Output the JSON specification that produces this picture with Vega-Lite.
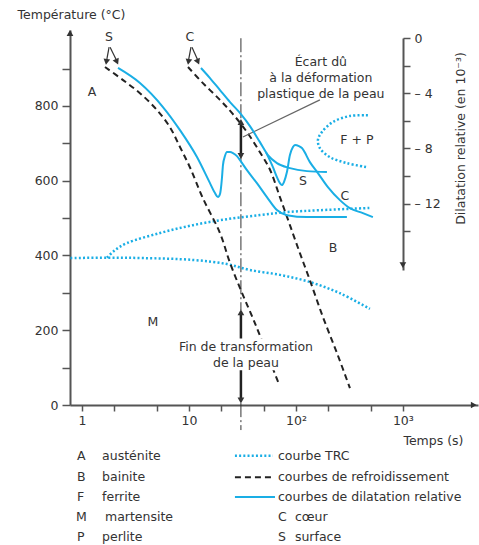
{
  "$schema": "https://vega.github.io/schema/vega-lite/v6.json",
  "width": 408,
  "height": 375,
  "autosize": {"type": "none"},
  "padding": {"left": 70, "top": 30, "right": 1, "bottom": 140},
  "background": "white",
  "config": {
    "font": "DejaVu Sans",
    "view": {"stroke": null},
    "axis": {"grid": false, "labelFont": "DejaVu Sans", "titleFont": "DejaVu Sans", "labelColor": "#333", "titleColor": "#333", "labelFontSize": 12.5, "titleFontSize": 12.5, "titleFontWeight": "normal", "domainColor": "#555", "tickColor": "#555", "domainWidth": 2, "tickWidth": 1.5, "labelFlush": false, "labelOverlap": false}
  },
  "datasets": {
    "cool": [
      {"s":"S","t":1.64,"T":904},{"s":"S","t":2.42,"T":869},{"s":"S","t":3.48,"T":834},{"s":"S","t":5.02,"T":789},{"s":"S","t":6.64,"T":743},{"s":"S","t":8.24,"T":690},{"s":"S","t":10.2,"T":636},{"s":"S","t":13.5,"T":553},{"s":"S","t":19.49,"T":460},{"s":"S","t":24.2,"T":380},{"s":"S","t":31.3,"T":300},{"s":"S","t":39.6,"T":232},{"s":"S","t":51.3,"T":152},{"s":"S","t":68.5,"T":60},
      {"s":"C","t":9.79,"T":904},{"s":"C","t":13.5,"T":861},{"s":"C","t":19.49,"T":816},{"s":"C","t":25.78,"T":778},{"s":"C","t":34.84,"T":730},{"s":"C","t":46.09,"T":676},{"s":"C","t":57.1,"T":630},{"s":"C","t":70.88,"T":556},{"s":"C","t":87.9,"T":481},{"s":"C","t":109,"T":406},{"s":"C","t":135,"T":334},{"s":"C","t":179,"T":235},{"s":"C","t":242,"T":139},{"s":"C","t":320,"T":45}
    ],
    "trc": [
      {"s":"low","o":1,"t":0.78,"T":393},{"s":"low","o":2,"t":1.71,"T":394},{"s":"low","o":3,"t":3.72,"T":393},{"s":"low","o":4,"t":10.9,"T":388},{"s":"low","o":5,"t":22.65,"T":377},{"s":"low","o":6,"t":37.17,"T":361},{"s":"low","o":7,"t":70.88,"T":348},{"s":"low","o":8,"t":135.1,"T":329},{"s":"low","o":9,"t":257.8,"T":299},{"s":"low","o":10,"t":491.5,"T":257},
      {"s":"up","o":1,"t":1.71,"T":394},{"s":"up","o":2,"t":2.03,"T":414},{"s":"up","o":3,"t":2.63,"T":433},{"s":"up","o":4,"t":5.36,"T":460},{"s":"up","o":5,"t":10.9,"T":481},{"s":"up","o":6,"t":22.65,"T":497},{"s":"up","o":7,"t":46.09,"T":508},{"s":"up","o":8,"t":82.4,"T":516},{"s":"up","o":9,"t":167.6,"T":521},{"s":"up","o":10,"t":491.5,"T":527},
      {"s":"fp","o":1,"t":470.9,"T":775},{"s":"fp","o":2,"t":319.6,"T":773},{"s":"fp","o":3,"t":221.8,"T":757},{"s":"fp","o":4,"t":175,"T":730},{"s":"fp","o":5,"t":160.6,"T":709},{"s":"fp","o":6,"t":167.6,"T":687},{"s":"fp","o":7,"t":207.8,"T":663},{"s":"fp","o":8,"t":299.7,"T":647},{"s":"fp","o":9,"t":460.8,"T":636}
    ],
    "dil": [
      {"s":"b1","t":2.17,"D":-2.17},{"s":"b1","t":3.48,"D":-3.26},{"s":"b1","t":5.71,"D":-5.0},{"s":"b1","t":8.24,"D":-6.67},{"s":"b1","t":11.88,"D":-8.62},{"s":"b1","t":15.72,"D":-10.51},{"s":"b1","t":17.5,"D":-11.23},{"s":"b1","t":18.67,"D":-11.52},{"s":"b1","t":19.5,"D":-11.3},{"s":"b1","t":19.91,"D":-10.87},{"s":"b1","t":20.34,"D":-10.14},{"s":"b1","t":20.79,"D":-9.2},{"s":"b1","t":21.7,"D":-8.55},{"s":"b1","t":22.65,"D":-8.26},{"s":"b1","t":24.2,"D":-8.26},{"s":"b1","t":25.78,"D":-8.33},{"s":"b1","t":28.1,"D":-8.55},{"s":"b1","t":29.98,"D":-8.84},{"s":"b1","t":34.84,"D":-9.57},{"s":"b1","t":43.19,"D":-10.51},{"s":"b1","t":53.58,"D":-11.52},{"s":"b1","t":66.44,"D":-12.46},{"s":"b1","t":82.4,"D":-12.83},{"s":"b1","t":126.7,"D":-12.97},{"s":"b1","t":299.7,"D":-12.97},
      {"s":"b2","t":12.95,"D":-2.17},{"s":"b2","t":15.72,"D":-2.9},{"s":"b2","t":19.49,"D":-3.77},{"s":"b2","t":24.2,"D":-4.64},{"s":"b2","t":30.6,"D":-5.51},{"s":"b2","t":37.17,"D":-6.38},{"s":"b2","t":46.09,"D":-7.54},{"s":"b2","t":54.74,"D":-8.48},{"s":"b2","t":66.44,"D":-9.06},{"s":"b2","t":87.9,"D":-9.42},{"s":"b2","t":126.7,"D":-9.64},{"s":"b2","t":194.9,"D":-9.71},
      {"s":"b3","t":52.4,"D":-8.26},{"s":"b3","t":60.96,"D":-9.35},{"s":"b3","t":66.44,"D":-10.07},{"s":"b3","t":70.88,"D":-10.51},{"s":"b3","t":74.0,"D":-10.65},{"s":"b3","t":77.3,"D":-10.43},{"s":"b3","t":82.4,"D":-9.71},{"s":"b3","t":87.9,"D":-8.48},{"s":"b3","t":93.8,"D":-7.9},{"s":"b3","t":97.9,"D":-7.75},{"s":"b3","t":106.7,"D":-7.83},{"s":"b3","t":113.8,"D":-7.97},{"s":"b3","t":135.1,"D":-8.99},{"s":"b3","t":160.6,"D":-9.78},{"s":"b3","t":199.1,"D":-10.8},{"s":"b3","t":257.8,"D":-11.74},{"s":"b3","t":319.6,"D":-12.32},{"s":"b3","t":422.9,"D":-12.68},{"s":"b3","t":524.4,"D":-12.97}
    ],
    "rules": [
      {"k":"dashdot","t":30.6,"T":981,"t2":30.6,"T2":254},
      {"k":"dashdot","t":30.6,"T":5,"t2":30.6,"T2":-67},
      {"k":"thick","t":30.6,"T":754,"t2":30.6,"T2":668},
      {"k":"thick","t":30.6,"T":243,"t2":30.6,"T2":170},
      {"k":"thick","t":30.6,"T":95,"t2":30.6,"T2":13},
      {"k":"leader","t":31.97,"T":717,"t2":167.6,"T2":816},
      {"k":"thin","t":1.79,"T":957,"t2":1.7,"T2":922},
      {"k":"thin","t":1.83,"T":957,"t2":2.1,"T2":922},
      {"k":"thin","t":10.44,"T":957,"t2":9.9,"T2":922},
      {"k":"thin","t":10.67,"T":957,"t2":12.1,"T2":922}
    ],
    "boxes": [
      {"t":7.7,"t2":158,"T":178,"T2":93}
    ],
    "heads": [
      {"t":30.6,"T":757,"a":0},{"t":30.6,"T":666,"a":180},
      {"t":30.6,"T":248,"a":0},{"t":30.6,"T":12,"a":180},
      {"t":1.69,"T":918,"a":189},{"t":2.12,"T":918,"a":155},
      {"t":9.89,"T":918,"a":189},{"t":12.14,"T":918,"a":157},
      {"t":0.772,"T":995,"a":0},{"t":4600,"T":0,"a":90}
    ],
    "leg": [
      {"k":"trc","t":26.9,"t2":60.9,"T":-136},
      {"k":"cool","t":26.9,"t2":60.9,"T":-193},
      {"k":"dil","t":26.9,"t2":63.7,"T":-246}
    ],
    "tc": [
      {"t":1.79,"T":984,"label":"S"},{"t":10.2,"T":984,"label":"C"},
      {"t":1.24,"T":837,"label":"A"},{"t":371.5,"T":709,"label":"F + P"},
      {"t":116.2,"T":599,"label":"S"},{"t":287,"T":559,"label":"C"},
      {"t":221.8,"T":420,"label":"B"},{"t":4.61,"T":222,"label":"M"},
      {"t":171,"T":917,"label":"Écart dû"},{"t":171,"T":874,"label":"à la déformation"},{"t":171,"T":832,"label":"plastique de la peau"},
      {"t":34.1,"T":155,"label":"Fin de transformation"},{"t":34.1,"T":112,"label":"de la peau"}
    ],
    "tl": [
      {"t":0.898,"T":-136,"label":"A"},{"t":1.54,"T":-136,"label":"austénite"},
      {"t":0.898,"T":-193,"label":"B"},{"t":1.54,"T":-193,"label":"bainite"},
      {"t":0.898,"T":-246,"label":"F"},{"t":1.54,"T":-246,"label":"ferrite"},
      {"t":0.878,"T":-299,"label":"M"},{"t":1.64,"T":-299,"label":"martensite"},
      {"t":0.898,"T":-353,"label":"P"},{"t":1.54,"T":-353,"label":"perlite"},
      {"t":67.9,"T":-136,"label":"courbe TRC"},
      {"t":67.9,"T":-193,"label":"courbes de refroidissement"},
      {"t":67.9,"T":-246,"label":"courbes de dilatation relative"},
      {"t":67.9,"T":-299,"label":"C"},{"t":97.9,"T":-299,"label":"cœur"},
      {"t":67.9,"T":-353,"label":"S"},{"t":97.9,"T":-353,"label":"surface"}
    ],
    "rightArrow": [{"t":1000,"D":-16.45,"a":180}]
  },
  "encoding": {
    "x": {"field":"t","type":"quantitative","scale":{"type":"log","domain":[0.772,5040],"nice":false},
      "axis":{"values":[1,2,5,10,20,50,100,200,500,1000],"labelExpr":"datum.value==1?'1':datum.value==10?'10':datum.value==100?'10²':datum.value==1000?'10³':''","tickSize":6,"labelPadding":3,"title":"Temps (s)","titleX":393,"titleY":35,"titleAlign":"right","titleBaseline":"middle","titleAnchor":null}}
  },
  "resolve": {"scale": {"y": "independent"}, "axis": {"y": "independent"}},
  "layer": [
    {
      "encoding": {
        "y": {"field":"T","type":"quantitative","scale":{"domain":[0,1003],"nice":false,"zero":false},
          "axis":{"values":[0,100,200,300,400,500,600,700,800,900],"labelExpr":"datum.value % 200 == 0 ? datum.label : ''","tickSize":8,"labelPadding":4,"title":"Température (°C)","titleAngle":0,"titleX":-53,"titleY":-16,"titleAlign":"left","titleBaseline":"middle","titleAnchor":null}}
      },
      "layer": [
        {"data":{"name":"trc"},"mark":{"type":"line","color":"#1aaee5","strokeWidth":2.5,"strokeDash":[2,2.2],"interpolate":"catmull-rom","clip":false},
          "encoding":{"detail":{"field":"s"},"order":{"field":"o","type":"quantitative"}}},
        {"data":{"name":"cool"},"mark":{"type":"line","color":"#222","strokeWidth":2,"strokeDash":[6,4],"interpolate":"catmull-rom","clip":false},
          "encoding":{"detail":{"field":"s"}}},
        {"data":{"name":"rules"},"transform":[{"filter":"datum.k=='dashdot'"}],"mark":{"type":"rule","color":"#333","strokeWidth":1,"strokeDash":[14,3,2,3],"clip":false},
          "encoding":{"x2":{"field":"t2"},"y2":{"field":"T2"}}},
        {"data":{"name":"rules"},"transform":[{"filter":"datum.k=='thick'"}],"mark":{"type":"rule","color":"#222","strokeWidth":2.5,"clip":false},
          "encoding":{"x2":{"field":"t2"},"y2":{"field":"T2"}}},
        {"data":{"name":"rules"},"transform":[{"filter":"datum.k=='leader'"}],"mark":{"type":"rule","color":"#666","strokeWidth":1.2,"clip":false},
          "encoding":{"x2":{"field":"t2"},"y2":{"field":"T2"}}},
        {"data":{"name":"rules"},"transform":[{"filter":"datum.k=='thin'"}],"mark":{"type":"rule","color":"#333","strokeWidth":1.2,"clip":false},
          "encoding":{"x2":{"field":"t2"},"y2":{"field":"T2"}}},
        {"data":{"name":"leg"},"transform":[{"filter":"datum.k=='trc'"}],"mark":{"type":"rule","color":"#1aaee5","strokeWidth":2.5,"strokeDash":[2,2.2],"clip":false},
          "encoding":{"x2":{"field":"t2"}}},
        {"data":{"name":"leg"},"transform":[{"filter":"datum.k=='cool'"}],"mark":{"type":"rule","color":"#222","strokeWidth":2,"strokeDash":[6,4],"clip":false},
          "encoding":{"x2":{"field":"t2"}}},
        {"data":{"name":"leg"},"transform":[{"filter":"datum.k=='dil'"}],"mark":{"type":"rule","color":"#1aaee5","strokeWidth":2,"clip":false},
          "encoding":{"x2":{"field":"t2"}}},
        {"data":{"name":"heads"},"mark":{"type":"point","shape":"triangle-up","filled":true,"color":"#333","size":45,"opacity":1,"clip":false},
          "encoding":{"angle":{"field":"a","type":"quantitative","scale":null}}},
        {"data":{"name":"boxes"},"mark":{"type":"rect","color":"white","opacity":1,"clip":false},
          "encoding":{"x2":{"field":"t2"},"y2":{"field":"T2"}}},
        {"data":{"name":"tc"},"mark":{"type":"text","align":"center","baseline":"middle","fontSize":12.5,"color":"#333","clip":false},
          "encoding":{"text":{"field":"label"}}},
        {"data":{"name":"tl"},"mark":{"type":"text","align":"left","baseline":"middle","fontSize":12.5,"color":"#333","clip":false},
          "encoding":{"text":{"field":"label"}}}
      ]
    },
    {
      "encoding": {
        "y": {"field":"D","type":"quantitative","scale":{"domain":[-16.8,0],"range":[240,8],"nice":false,"zero":false},
          "axis":{"orient":"right","offset":-75,"values":[0,-2,-4,-6,-8,-10,-12,-14],"labelExpr":"datum.value==0?'0':(datum.value % 4 == 0 ? '– ' + abs(datum.value) : '')","tickSize":7,"labelPadding":4,"labelAlign":"left","title":"Dilatation relative (en 10⁻³)","titleAngle":-90,"titleX":57,"titleY":108,"titleAlign":"center","titleBaseline":"middle","titleAnchor":null}}
      },
      "layer": [
        {"data":{"name":"dil"},"mark":{"type":"line","color":"#1aaee5","strokeWidth":2,"interpolate":"monotone","clip":false},
          "encoding":{"detail":{"field":"s"}}},
        {"data":{"name":"rightArrow"},"mark":{"type":"point","shape":"triangle-up","filled":true,"color":"#333","size":45,"opacity":1,"clip":false},
          "encoding":{"angle":{"field":"a","type":"quantitative","scale":null}}}
      ]
    }
  ]
}
